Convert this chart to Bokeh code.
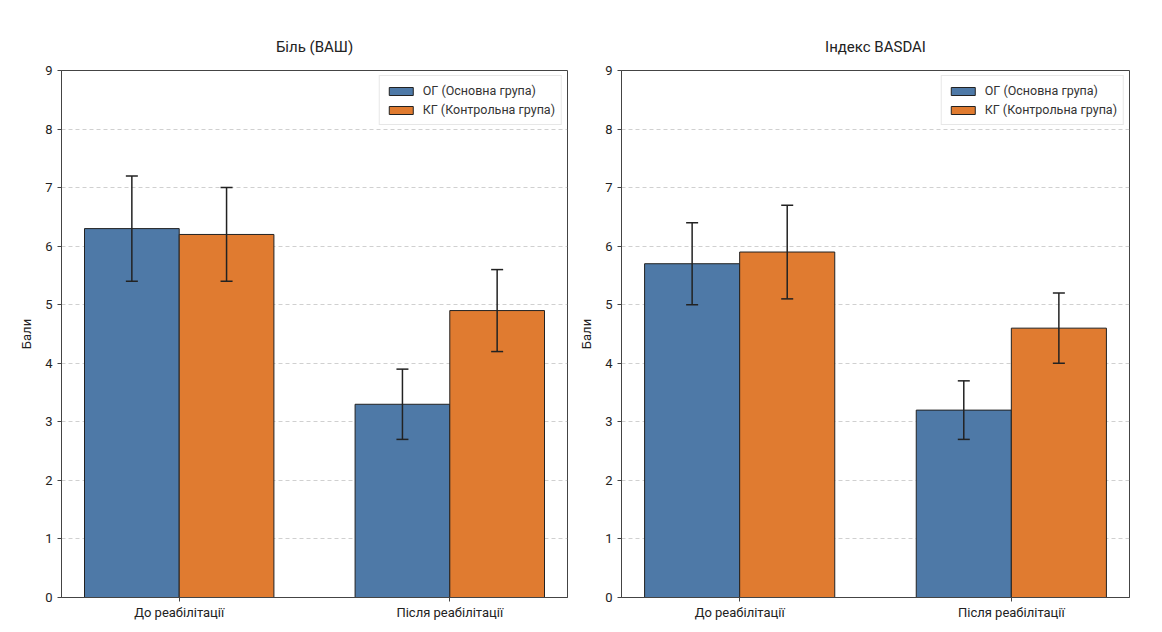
from bokeh.plotting import figure
from bokeh.models import Whisker, ColumnDataSource, Range1d, FixedTicker, Legend, LegendItem
from bokeh.layouts import row
from bokeh.embed import file_html
from bokeh.resources import INLINE
import numpy as np

categories = ["До реабілітації", "Після реабілітації"]
groups = ["ОГ (Основна група)", "КГ (Контрольна група)"]

pain_og = [6.3, 3.3]
pain_og_err = [0.9, 0.6]
pain_kg = [6.2, 4.9]
pain_kg_err = [0.8, 0.7]

basdai_og = [5.7, 3.2]
basdai_og_err = [0.7, 0.5]
basdai_kg = [5.9, 4.6]
basdai_kg_err = [0.8, 0.6]

colors = ["#4e79a7", "#e07b30"]
FONT = "Roboto"
BAR_W = 0.35


def make_panel(title, og, og_err, kg, kg_err, left_border, right_border, frame_w):
    p = figure(output_backend="svg", toolbar_location=None,
               frame_width=frame_w, frame_height=527,
               min_border_left=left_border, min_border_right=right_border,
               min_border_top=70, min_border_bottom=27,
               x_range=Range1d(-0.435, 1.435), y_range=Range1d(0, 9),
               title=title)
    p.title.align = "center"
    p.title.text_font = FONT
    p.title.text_font_size = "15px"
    p.title.text_font_style = "normal"
    p.title.text_color = "#222222"
    p.title.standoff = 29

    x = np.arange(len(categories))
    items = []
    for i, (vals, errs) in enumerate([(og, og_err), (kg, kg_err)]):
        xs = x + (i - 0.5) * BAR_W
        src = ColumnDataSource(dict(x=xs, top=vals,
                                    lower=[v - e for v, e in zip(vals, errs)],
                                    upper=[v + e for v, e in zip(vals, errs)]))
        r = p.vbar(x="x", top="top", width=BAR_W, bottom=0, source=src,
                   fill_color=colors[i], line_color="#222222", line_width=1)
        w = Whisker(base="x", lower="lower", upper="upper", source=src,
                    line_color="#222222", line_width=1.5, level="overlay")
        for h in (w.upper_head, w.lower_head):
            h.size = 12
            h.line_width = 1.5
            h.line_color = "#222222"
        p.add_layout(w)
        items.append(LegendItem(label=groups[i], renderers=[r]))

    legend = Legend(items=items, location="top_right")
    legend.label_text_font = FONT
    legend.label_text_font_size = "12.5px"
    legend.label_text_color = "#333333"
    legend.border_line_color = "#d0d0d0"
    legend.border_line_width = 1
    legend.background_fill_alpha = 0.9
    legend.margin = 5
    legend.padding = 6
    legend.spacing = 2
    legend.glyph_width = 30
    legend.glyph_height = 10
    legend.label_height = 17
    legend.label_standoff = 7
    p.add_layout(legend)

    p.xaxis.ticker = FixedTicker(ticks=list(range(len(categories))))
    p.xaxis.major_label_overrides = {i: c for i, c in enumerate(categories)}
    p.xaxis.major_label_standoff = 3
    p.yaxis.ticker = FixedTicker(ticks=list(range(0, 10)))
    p.yaxis.axis_label = "Бали"
    for ax in (p.xaxis, p.yaxis):
        ax.major_label_text_font = FONT
        ax.major_label_text_font_size = "13px"
        ax.major_label_text_color = "#222222"
        ax.axis_line_color = "#444444"
        ax.major_tick_line_color = "#444444"
        ax.major_tick_out = 4
        ax.major_tick_in = 0
        ax.minor_tick_line_color = None
    p.yaxis.axis_label_text_font = FONT
    p.yaxis.axis_label_text_font_size = "13px"
    p.yaxis.axis_label_text_font_style = "normal"
    p.yaxis.axis_label_text_color = "#222222"
    p.yaxis.axis_label_standoff = 8

    p.xgrid.grid_line_color = None
    p.ygrid.grid_line_color = "#b0b0b0"
    p.ygrid.grid_line_alpha = 0.6
    p.ygrid.grid_line_dash = "4 3"
    p.outline_line_color = "#444444"
    p.outline_line_width = 1
    p.background_fill_color = "white"
    p.border_fill_color = "white"
    return p


p1 = make_panel("Біль (ВАШ)", pain_og, pain_og_err, pain_kg, pain_kg_err, 61, 6, 506)
p2 = make_panel("Індекс BASDAI", basdai_og, basdai_og_err, basdai_kg, basdai_kg_err, 48, 17, 508)

layout = row(p1, p2)
open("out.html", "w").write(file_html(layout, INLINE))
